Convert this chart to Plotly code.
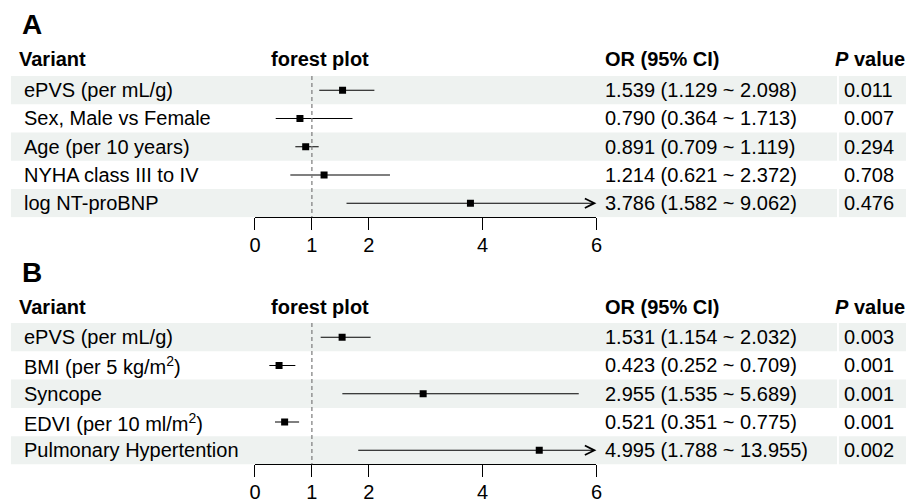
import plotly.graph_objects as go

W, H = 914, 503

# ---------------- data ----------------
variants_a = ["ePVS (per mL/g)", "Sex, Male vs Female", "Age (per 10 years)",
              "NYHA class III to IV", "log NT-proBNP"]
or_a = [1.539, 0.790, 0.891, 1.214, 3.786]
lo_a = [1.129, 0.364, 0.709, 0.621, 1.582]
hi_a = [2.098, 1.713, 1.119, 2.372, 9.062]
p_a = ["0.011", "0.007", "0.294", "0.708", "0.476"]

variants_b = ["ePVS (per mL/g)", "BMI (per 5 kg/m<sup>2</sup>)", "Syncope",
              "EDVI (per 10 ml/m<sup>2</sup>)", "Pulmonary Hypertention"]
or_b = [1.531, 0.423, 2.955, 0.521, 4.995]
lo_b = [1.154, 0.252, 1.535, 0.351, 1.788]
hi_b = [2.032, 0.709, 5.689, 0.775, 13.955]
p_b = ["0.003", "0.001", "0.001", "0.001", "0.002"]

tick_vals = [0, 1, 2, 4, 6]
x_max = 6
ref_value = 1

FONT = "Liberation Sans, Arial, sans-serif"
FS = 20
STRIPE = "#eef2f0"

fig = go.Figure()


def py(px):
    return 1 - px / H


panels = [
    dict(lbl="A", var=variants_a, orv=or_a, lo=lo_a, hi=hi_a, p=p_a,
         xa="x", ya="y", top=77, bot=220, head=60, title=25),
    dict(lbl="B", var=variants_b, orv=or_b, lo=lo_b, hi=hi_b, p=p_b,
         xa="x2", ya="y2", top=327, bot=470, head=311, title=276),
]

layout_axes = {}
for i, pn in enumerate(panels):
    n = len(pn["var"])
    rows = list(range(1, n + 1))
    xa, ya = pn["xa"], pn["ya"]
    xkey = "xaxis" if xa == "x" else "xaxis2"
    ykey = "yaxis" if ya == "y" else "yaxis2"
    layout_axes[xkey] = dict(domain=[252.3 / W, 598.3 / W], range=[0, x_max],
                             anchor=ya, showgrid=False, zeroline=False,
                             showline=True, linecolor="black", linewidth=1,
                             ticks="outside", ticklen=12, tickcolor="black",
                             tickwidth=1, tickvals=tick_vals,
                             ticklabelstandoff=-2,
                             tickfont=dict(family=FONT, size=FS, color="black"),
                             fixedrange=True)
    layout_axes[ykey] = dict(domain=[py(pn["bot"]), py(pn["top"])],
                             range=[n + 0.5, 0.5], anchor=xa, visible=False,
                             showgrid=False, zeroline=False, fixedrange=True)

    # stripes
    for r in rows:
        if r % 2 == 1:
            for x0, x1 in [(5, 842), (844, 912)]:
                fig.add_shape(type="rect", xref="paper", yref=ya,
                              x0=x0 / W, x1=x1 / W, y0=r - 0.5, y1=r + 0.5,
                              fillcolor=STRIPE, line_width=0, layer="below")

    # reference dashed line
    fig.add_shape(type="line", xref=xa, yref=ya, x0=ref_value, x1=ref_value,
                  y0=0.5, y1=n + 0.5,
                  line=dict(color="#7a7a7a", width=1.2, dash="4px,3px"),
                  layer="above")

    # CI lines (within range)
    lx, ly = [], []
    for r, l, h in zip(rows, pn["lo"], pn["hi"]):
        if h <= x_max:
            lx += [l, h, None]
            ly += [r, r, None]
        else:
            fig.add_annotation(x=x_max, y=r, xref=xa, yref=ya,
                               ax=l, ay=r, axref=xa, ayref=ya,
                               showarrow=True, arrowhead=5, arrowsize=1.7,
                               arrowwidth=1.1, arrowcolor="black", text="",
                               standoff=0)
    fig.add_trace(go.Scatter(x=lx, y=ly, xaxis=xa, yaxis=ya, mode="lines",
                             line=dict(color="black", width=1.1),
                             hoverinfo="skip", showlegend=False))
    fig.add_trace(go.Scatter(x=pn["orv"], y=rows, xaxis=xa, yaxis=ya,
                             mode="markers",
                             marker=dict(symbol="square", size=7, color="black"),
                             showlegend=False))

    # panel letter & headers
    fig.add_annotation(text="<b>%s</b>" % pn["lbl"], xref="paper", yref="paper",
                       x=14 / W, y=py(pn["title"]), xanchor="left",
                       yanchor="middle", showarrow=False,
                       font=dict(family=FONT, size=28, color="black"))
    heads = [("<b>Variant</b>", 11, "left"),
             ("<b>forest plot</b>", 318, "center"),
             ("<b>OR (95% CI)</b>", 605, "left"),
             ("<b><i>P</i> value</b>", 876, "center")]
    for t, x, anc in heads:
        fig.add_annotation(text=t, xref="paper", yref="paper", x=x / W,
                           y=py(pn["head"]), xanchor=anc, yanchor="middle",
                           showarrow=False,
                           font=dict(family=FONT, size=FS, color="black"))

    # table cells
    for r, v, o, l, h, p in zip(rows, pn["var"], pn["orv"], pn["lo"],
                                pn["hi"], pn["p"]):
        fig.add_annotation(text=v, xref="paper", yref=ya, x=16 / W, y=r,
                           xanchor="left", yanchor="middle", showarrow=False,
                           font=dict(family=FONT, size=FS, color="black"))
        fig.add_annotation(text="%.3f (%.3f ~ %.3f)" % (o, l, h), xref="paper",
                           yref=ya, x=605 / W, y=r, xanchor="left",
                           yanchor="middle", showarrow=False,
                           font=dict(family=FONT, size=FS, color="black"))
        fig.add_annotation(text=p, xref="paper", yref=ya, x=874 / W, y=r,
                           xanchor="center", yanchor="middle", showarrow=False,
                           font=dict(family=FONT, size=FS, color="black"))

fig.update_layout(width=W, height=H, margin=dict(l=0, r=0, t=0, b=0),
                  paper_bgcolor="white", plot_bgcolor="rgba(0,0,0,0)",
                  font=dict(family=FONT, size=FS, color="black"),
                  showlegend=False, **layout_axes)

fig.write_html("out.html", config={"displayModeBar": False},
               post_script="document.body.style.margin='0';"
                           "document.body.style.overflow='hidden';")
